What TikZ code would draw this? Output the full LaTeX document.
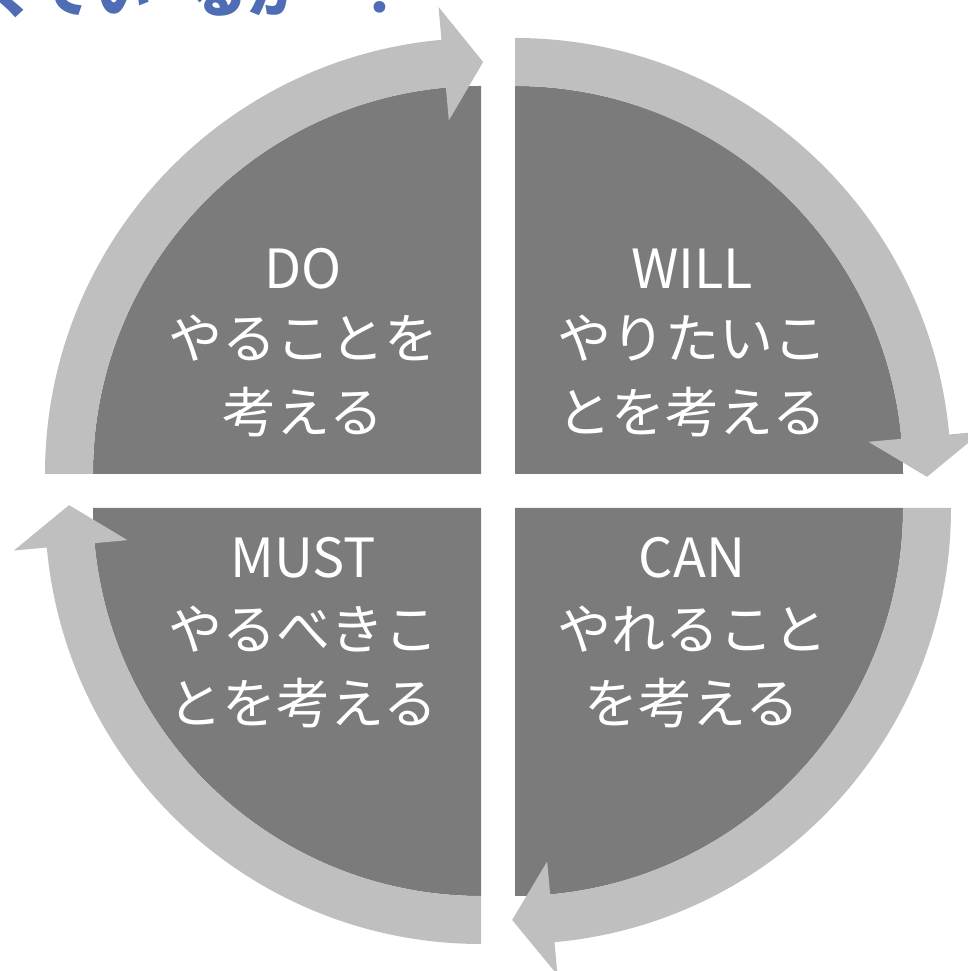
\documentclass[tikz,border=0pt]{standalone}
\usepackage{fontspec}
\newfontfamily\jpfont{Noto Sans CJK JP}
\definecolor{quadgray}{HTML}{7B7B7B}
\definecolor{ringgray}{HTML}{BFBFBF}
\definecolor{titleblue}{HTML}{4F6DB5}
\begin{document}
\begin{tikzpicture}[x=1pt,y=1pt,
  quad/.style={fill=quadgray},
  ring/.style={fill=ringgray},
  lbl/.style={text=white,font=\jpfont\fontsize{54pt}{60pt}\selectfont,inner sep=0pt,anchor=base},
  ttlstyle/.style={text=titleblue,font=\jpfont\bfseries\fontsize{58pt}{64pt}\selectfont,inner sep=0pt,anchor=base west}]
\useasboundingbox (0,0) rectangle (967,971);
\coordinate (c1) at (481,497);
\coordinate (c2) at (515,497);
\coordinate (c3) at (515,463);
\coordinate (c4) at (481,463);
% dark quadrants
\fill[quad] (c1) -- ++(180:388pt) arc[start angle=180,end angle=90,radius=388pt] -- cycle;
\fill[quad] (c2) -- ++(90:388pt) arc[start angle=90,end angle=0,radius=388pt] -- cycle;
\fill[quad] (c3) -- ++(0:388pt) arc[start angle=0,end angle=-90,radius=388pt] -- cycle;
\fill[quad] (c4) -- ++(270:388pt) arc[start angle=270,end angle=180,radius=388pt] -- cycle;
% ring arrows
\begin{scope}[shift={(c1)}]
\fill[ring] (180:436pt) arc[start angle=180,end angle=95.2,radius=436pt] -- (95.2:469pt) -- (89.7:412pt) -- (95.2:355pt) -- (95.2:388pt) arc[start angle=95.2,end angle=180,radius=388pt] -- cycle;
\end{scope}
\begin{scope}[shift={(c2)}]
\fill[ring] (90:436pt) arc[start angle=90,end angle=5.2,radius=436pt] -- (5.2:469pt) -- (-0.4:412pt) -- (5.2:355pt) -- (5.2:388pt) arc[start angle=5.2,end angle=90,radius=388pt] -- cycle;
\end{scope}
\begin{scope}[shift={(c3)}]
\fill[ring] (0:436pt) arc[start angle=0,end angle=-84.8,radius=436pt] -- (-84.8:469pt) -- (-90.4:412pt) -- (-84.8:355pt) -- (-84.8:388pt) arc[start angle=-84.8,end angle=0,radius=388pt] -- cycle;
\end{scope}
\begin{scope}[shift={(c4)}]
\fill[ring] (270:436pt) arc[start angle=270,end angle=185.2,radius=436pt] -- (185.2:469pt) -- (179.6:412pt) -- (185.2:355pt) -- (185.2:388pt) arc[start angle=185.2,end angle=270,radius=388pt] -- cycle;
\end{scope}
% labels
\node[lbl] (do1) at (303,682) {DO};
\node[lbl] (do2) at (303,612) {やることを};
\node[lbl] (do3) at (303,538) {考える};
\node[lbl] (will1) at (692,682) {WILL};
\node[lbl] (will2) at (692,612) {やりたいこ};
\node[lbl] (will3) at (692,538) {とを考える};
\node[lbl] (must1) at (303,393) {MUST};
\node[lbl] (must2) at (303,321) {やるべきこ};
\node[lbl] (must3) at (303,247) {とを考える};
\node[lbl] (can1) at (692,393) {CAN};
\node[lbl] (can2) at (692,321) {やれること};
\node[lbl] (can3) at (692,247) {を考える};
% cut-off title
\begin{scope}
\clip (0,0) rectangle (967,971);
\node[ttlstyle] (ttl) at (-21,958) {くてい\hspace{38pt}るか\hspace{46pt}？};
\end{scope}
\end{tikzpicture}
\end{document}
